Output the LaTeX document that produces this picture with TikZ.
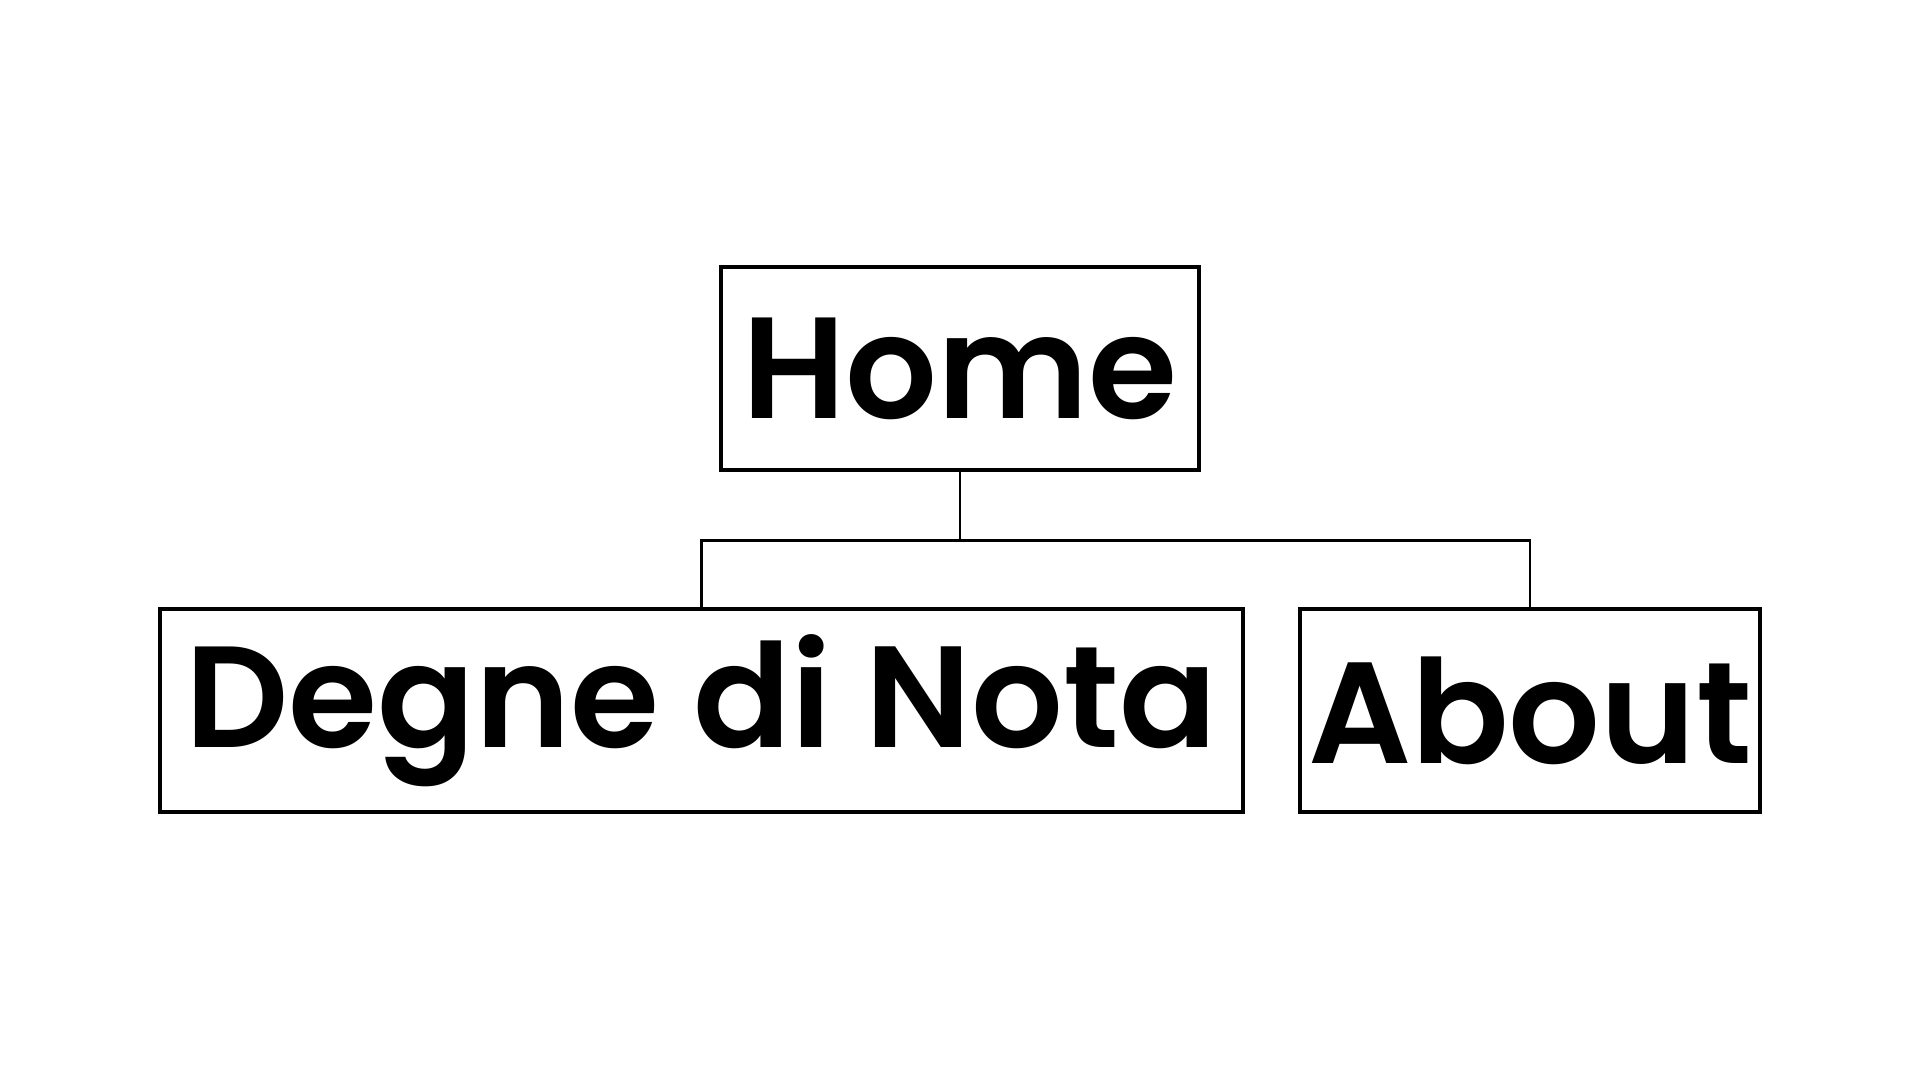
\documentclass[tikz,border=0pt]{standalone}
\usepackage{fontspec}
\setmainfont{Poppins}[UprightFont={* SemiBold}]
\usetikzlibrary{positioning}

\begin{document}
\begin{tikzpicture}[
    page/.style={draw,line width=1pt,minimum height=2.03cm,inner sep=0pt,font=\fontsize{41}{47}\selectfont},
    link/.style={draw,line width=0.75pt}]
    \useasboundingbox (0,0) rectangle (19.2,10.8);
    \node[page,minimum width=4.78cm] (home) at (9.6,7.115) {Home};
    \node[page,minimum width=10.83cm] (degne) at (7.015,3.695) {Degne di Nota};
    \node[page,minimum width=4.6cm] (about) at (15.3,3.695) {About};
    \coordinate[below=0.69cm of home.south] (fork);
    \draw[link] (home.south) -- (fork);
    \draw[link] (fork) -| (degne.north);
    \draw[link] (fork) -| (about.north);
  \end{tikzpicture}
\end{document}
